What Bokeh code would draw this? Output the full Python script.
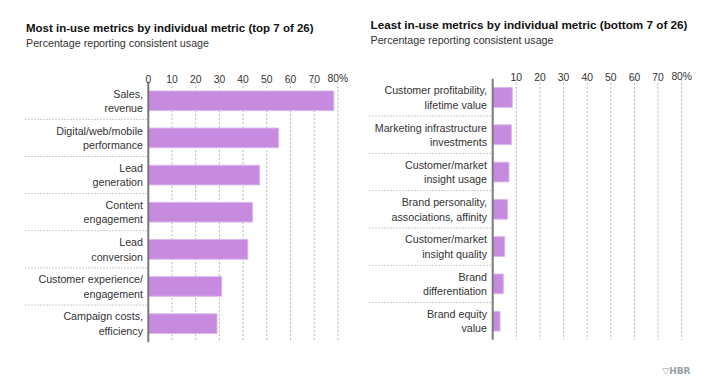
from bokeh.plotting import figure
from bokeh.models import Range1d
from bokeh.layouts import row
from bokeh.core.properties import value
from bokeh.embed import file_html
from bokeh.resources import INLINE

# ---------------- data ----------------
top_metrics = ["Sales,\nrevenue", "Digital/web/mobile\nperformance", "Lead\ngeneration",
               "Content\nengagement", "Lead\nconversion", "Customer experience/\nengagement",
               "Campaign costs,\nefficiency"]
top_values = [78.3, 55, 47, 44, 42, 31, 29]

bottom_metrics = ["Customer profitability,\nlifetime value", "Marketing infrastructure\ninvestments",
                  "Customer/market\ninsight usage", "Brand personality,\nassociations, affinity",
                  "Customer/market\ninsight quality", "Brand\ndifferentiation", "Brand equity\nvalue"]
bottom_values = [8.3, 7.9, 6.9, 6.3, 5.1, 4.5, 3.1]

left_ticks = [0, 10, 20, 30, 40, 50, 60, 70, 80]
left_tick_labels = ["0", "10", "20", "30", "40", "50", "60", "70", "80%"]
right_ticks = [10, 20, 30, 40, 50, 60, 70, 80]
right_tick_labels = ["10", "20", "30", "40", "50", "60", "70", "80%"]

left_title = "Most in-use metrics by individual metric (top 7 of 26)"
right_title = "Least in-use metrics by individual metric (bottom 7 of 26)"
subtitle = "Percentage reporting consistent usage"

BAR = "#c68ade"
FONT = value("Liberation Sans")
H = 374


def panel(cats, vals, ticks, tick_labels, title, win_x0, width, zero_px, px_per_unit,
          top_px, row_h, label_right_px, sep_left_px, title_x, title_base, sub_base, tick_base,
          title_size):
    # map window pixels to data
    fx = lambda px: (px - zero_px) / px_per_unit
    fy = lambda py: (py - top_px) / row_h
    n = len(cats)
    p = figure(width=width, height=H, output_backend="svg", toolbar_location=None,
               x_range=Range1d(fx(win_x0), fx(win_x0 + width)),
               y_range=Range1d(fy(H), fy(0)),
               x_axis_type=None, y_axis_type=None, min_border=0)
    p.grid.visible = False
    p.outline_line_color = None
    p.background_fill_color = "white"

    # vertical gridlines
    p.segment(x0=ticks, y0=[0] * len(ticks), x1=ticks, y1=[n] * len(ticks),
              line_color="#b5b5b5", line_width=1, line_dash="2 2")
    # row separators
    seps = list(range(1, n))
    p.segment(x0=[fx(sep_left_px)] * len(seps), y0=seps, x1=[0] * len(seps), y1=seps,
              line_color="#9a9a9a", line_width=1, line_dash="1 2")
    # bars
    ys = [i + 0.5 for i in range(n)]
    p.hbar(y=ys, left=0, right=vals, height=0.53, fill_color=BAR,
           line_color="#dcb8ec", line_width=1)
    # axis line
    p.segment(x0=[0], y0=[0], x1=[0], y1=[n], line_color="#7a7a7a", line_width=2)
    # category labels
    p.text(x=[fx(label_right_px)] * n, y=ys, text=cats, text_align="right",
           text_baseline="middle", text_font=FONT, text_font_size="10.7px",
           text_color="#333333", text_line_height=1.2)
    # tick labels
    p.text(x=ticks, y=[fy(tick_base)] * len(ticks), text=tick_labels, text_align="center",
           text_baseline="alphabetic", text_font=FONT, text_font_size="10.3px",
           text_color="#333333")
    # titles
    p.text(x=[fx(title_x)], y=[fy(title_base)], text=[title], text_font=FONT,
           text_font_size=title_size, text_font_style="bold", text_color="#111111",
           text_baseline="alphabetic")
    p.text(x=[fx(title_x)], y=[fy(sub_base)], text=[subtitle], text_font=FONT,
           text_font_size="10.7px", text_color="#333333", text_baseline="alphabetic")
    return p, fx, fy


left, _, _ = panel(top_metrics, top_values, left_ticks, left_tick_labels, left_title,
                   0, 360, 147.8, 2.37, 81.7, 37.14, 142.5, 25, 25.5, 27.5, 42.5, 78.3, "11.5px")
right, rfx, rfy = panel(bottom_metrics, bottom_values, right_ticks, right_tick_labels, right_title,
                        360, 353, 492.2, 2.3625, 78.3, 37.29, 486.5, 369, 370, 24.3, 39.8, 76.0,
                        "11.7px")
# logo
right.text(x=[rfx(690)], y=[rfy(370)], text=["\u25bdHBR"], text_align="right",
           text_baseline="middle", text_font=value("DejaVu Sans"), text_font_size="9px",
           text_font_style="bold", text_color="#9aa1a8")

layout = row(left, right)
open("out.html", "w").write(file_html(layout, INLINE))
